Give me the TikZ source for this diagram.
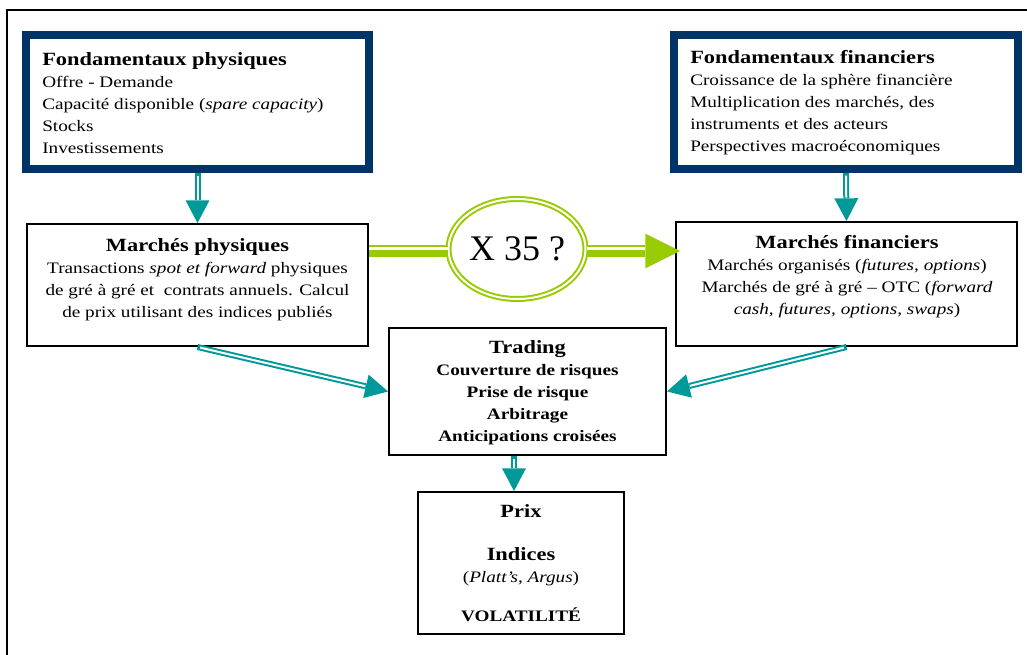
\documentclass[tikz,border=0pt]{standalone}
\usepackage{fontspec}
\setmainfont{Liberation Serif}[FakeStretch=1.2]
\newfontfamily\ringfont{Liberation Serif}
\usetikzlibrary{arrows.meta,shapes.geometric,calc}
\definecolor{navy}{HTML}{003366}
\definecolor{tealc}{HTML}{009999}
\definecolor{limec}{HTML}{99CC00}
\newcommand{\titl}[1]{{\fontsize{14}{16.5}\selectfont\bfseries #1}}
\tikzset{
  frame/.style={draw=black,line width=1.5pt},
  fondbox/.style={draw=navy,line width=6pt,fill=white,inner sep=0pt},
  marchebox/.style={draw=black,line width=1.5pt,fill=white,inner sep=0pt},
  body/.style={font=\fontsize{12}{16.5}\selectfont,inner sep=0pt},
  ringnode/.style={ellipse,draw=limec,double,double distance=1.5pt,line width=1.5pt,inner sep=0pt,font=\ringfont\fontsize{27}{30}\selectfont},
  gbar/.style={draw=limec,line width=9pt},
  ggap/.style={draw=white,line width=1.7pt},
  tealdbl/.style={draw=white,line width=1.5pt,shorten <=2pt,shorten >=17.5pt,preaction={draw=tealc,line width=4.5pt,shorten <=0pt,shorten >=0pt,-{Triangle[length=17pt,width=18pt,line width=0pt]}}}
}
\begin{document}
\begin{tikzpicture}[x=0.75pt,y=-0.75pt]
\path[use as bounding box] (0,0) rectangle (1027,655);
\draw[frame] (7,655) -- (7,10) -- (1027,10);
\node[fondbox,minimum width=257.25pt,minimum height=100.5pt] (fphys) at (197.5,102) {};
\node[body,anchor=north west,align=left] (fphystxt) at (42,52) {\titl{Fondamentaux physiques}\\Offre - Demande\\Capacité disponible (\textit{spare capacity})\\Stocks\\Investissements};
\node[fondbox,minimum width=258pt,minimum height=100.5pt] (ffin) at (846,102) {};
\node[body,anchor=north west,align=left] (ffintxt) at (690,50) {\titl{Fondamentaux financiers}\\Croissance de la sphère financière\\Multiplication des marchés, des\\instruments et des acteurs\\Perspectives macroéconomiques};
\node[marchebox,minimum width=255.75pt,minimum height=91.5pt] (mphys) at (197.5,285) {};
\node[body,anchor=north,align=center] (mphystxt) at (197.5,238) {\titl{Marchés physiques}\\Transactions \textit{spot et forward} physiques\\de gré à gré et~ contrats annuels. Calcul\\de prix utilisant des indices publiés};
\node[marchebox,minimum width=255.75pt,minimum height=93pt] (mfin) at (846.5,284) {};
\node[body,anchor=north,align=center] (mfintxt) at (847,235) {\titl{Marchés financiers}\\Marchés organisés (\textit{futures, options})\\Marchés de gré à gré – OTC (\textit{forward}\\\textit{cash, futures, options, swaps})};
\node[marchebox,minimum width=207.75pt,minimum height=95.25pt] (trading) at (527.5,391.5) {};
\node[body,anchor=north,align=center] (tradingtxt) at (527.5,340) {\titl{Trading}\\\textbf{Couverture de risques}\\\textbf{Prise de risque}\\\textbf{Arbitrage}\\\textbf{Anticipations croisées}};
\node[marchebox,minimum width=154.5pt,minimum height=106.5pt] (prix) at (521,563) {};
\node[body,anchor=north,align=center] (prixtxt) at (521,504.6) {\titl{Prix}\\[15.75pt]\titl{Indices}\\(\textit{Platt’s, Argus})\\[12.75pt]\textbf{VOLATILITÉ}};
\node[ringnode,minimum width=102.75pt,minimum height=75pt] (x35) at (517,249) {X 35 ?};
\coordinate (gy) at (0,251);
\coordinate (gyg) at (0,248.6);
\draw[gbar] (mphys.east |- gy) -- (x35.west |- gy);
\draw[ggap] (mphys.east |- gyg) -- (x35.west |- gyg);
\draw[gbar,shorten >=-3.75pt,-{Triangle[length=26pt,width=26pt,line width=0pt]}] (x35.east |- gy) -- (mfin.west |- gy);
\draw[ggap,shorten >=22.5pt] (x35.east |- gyg) -- (mfin.west |- gyg);
\draw[tealdbl] (fphys.south) -- (mphys.north);
\draw[tealdbl] (ffin.south) -- (mfin.north);
\draw[tealdbl] (mphys.south) -- (trading.west);
\draw[tealdbl] (mfin.south) -- (trading.east);
\draw[tealdbl] ($(trading.south)+(-13.5,0)$) -- ($(prix.north)+(-7,0)$);
\end{tikzpicture}
\end{document}
